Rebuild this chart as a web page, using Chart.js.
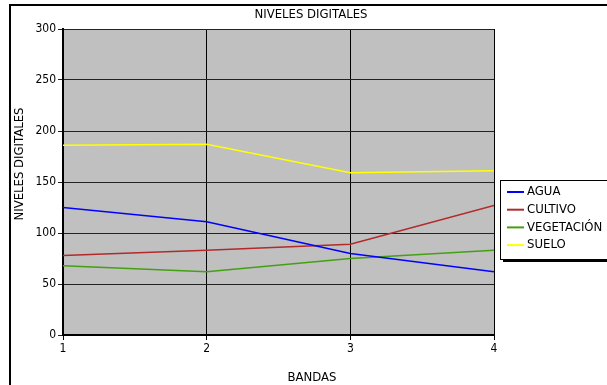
<!DOCTYPE html>
<html>
<head>
<meta charset="utf-8">
<script src="https://cdn.jsdelivr.net/npm/chart.js@4.4.0/dist/chart.umd.min.js"></script>
<style>
  body { margin: 0; background: #fff; }
  #wrap { width: 607px; height: 385px; }
</style>
</head>
<body>
<div id="wrap"><canvas id="myChart" width="607" height="385"></canvas></div>
<script>
// datos
const bandas = [1, 2, 3, 4];
const agua = [125, 111, 80, 62];
const cultivo = [78, 83, 89, 127];
const vegetacion = [68, 62, 75, 83];
const suelo = [186, 187, 159, 161];
const yTicks = [0, 50, 100, 150, 200, 250, 300];

const chartTitle = 'NIVELES DIGITALES';
const yTitle = 'NIVELES DIGITALES';
const xTitle = 'BANDAS';

const FONT = '"Liberation Sans Narrow", "DejaVu Sans Condensed", sans-serif';

const toPoints = (vals) => vals.map((v, i) => ({ x: bandas[i], y: v }));

// fondo, marco, títulos y leyenda estilo Excel
const excelLook = {
    id: 'excelLook',
    beforeDraw(chart) {
        const { ctx, chartArea: a } = chart;
        ctx.save();
        ctx.fillStyle = '#fff';
        ctx.fillRect(0, 0, chart.width, chart.height);
        ctx.strokeStyle = '#000';
        ctx.lineWidth = 2;
        ctx.strokeRect(10, 5, chart.width + 20, chart.height + 20);
        ctx.fillStyle = '#c0c0c0';
        ctx.fillRect(a.left, a.top, a.right - a.left, a.bottom - a.top);
        ctx.restore();
    },
    afterDraw(chart) {
        const { ctx } = chart;
        ctx.save();
        ctx.fillStyle = '#000';
        ctx.font = '13px ' + FONT;
        ctx.textAlign = 'center';
        ctx.textBaseline = 'middle';
        ctx.fillText(chartTitle, 311, 15);
        ctx.fillText(xTitle, 312, 378);
        ctx.save();
        ctx.translate(20, 164);
        ctx.rotate(-Math.PI / 2);
        ctx.fillText(yTitle, 0, 0);
        ctx.restore();

        // leyenda
        ctx.fillStyle = '#000';
        ctx.fillRect(503, 259, 130, 3);
        ctx.fillStyle = '#fff';
        ctx.fillRect(500, 180, 130, 79);
        ctx.strokeStyle = '#000';
        ctx.lineWidth = 1;
        ctx.strokeRect(500.5, 180.5, 130, 79);
        ctx.textAlign = 'left';
        chart.data.datasets.forEach((ds, i) => {
            const y = 192 + i * 17.7;
            ctx.strokeStyle = ds.borderColor;
            ctx.lineWidth = 2;
            ctx.beginPath();
            ctx.moveTo(507, y);
            ctx.lineTo(524, y);
            ctx.stroke();
            ctx.fillStyle = '#000';
            ctx.fillText(ds.label, 527, y);
        });
        ctx.restore();
    }
};

const ctx = document.getElementById('myChart').getContext('2d');
const myChart = new Chart(ctx, {
    type: 'line',
    data: {
        datasets: [
            { label: 'AGUA', data: toPoints(agua), borderColor: '#0000ff' },
            { label: 'CULTIVO', data: toPoints(cultivo), borderColor: '#b22a2a' },
            { label: 'VEGETACIÓN', data: toPoints(vegetacion), borderColor: '#44a012' },
            { label: 'SUELO', data: toPoints(suelo), borderColor: '#ffff00' }
        ]
    },
    options: {
        responsive: false,
        animation: false,
        devicePixelRatio: 1,
        elements: {
            line: { borderWidth: 1.5, tension: 0, fill: false },
            point: { radius: 0, hoverRadius: 0 }
        },
        layout: { padding: { top: 29, right: 113, left: 0, bottom: 0 } },
        plugins: {
            legend: { display: false },
            title: { display: false },
            tooltip: { enabled: false }
        },
        scales: {
            x: {
                type: 'linear',
                min: 1,
                max: 4,
                afterFit: (s) => { s.height = 50; },
                ticks: {
                    stepSize: 1,
                    color: '#000',
                    font: { family: FONT, size: 12 },
                    padding: 2
                },
                grid: { color: '#000', lineWidth: 1, tickLength: 5 },
                border: { color: '#000', width: 2 }
            },
            y: {
                min: 0,
                max: 300,
                afterFit: (s) => { s.width = 63; },
                afterBuildTicks: (s) => { s.ticks = yTicks.map(v => ({ value: v })); },
                ticks: {
                    color: '#000',
                    font: { family: FONT, size: 12 },
                    padding: 2
                },
                grid: { color: '#222', lineWidth: 1, tickLength: 5 },
                border: { color: '#000', width: 2 }
            }
        }
    },
    plugins: [excelLook]
});
</script>
</body>
</html>
